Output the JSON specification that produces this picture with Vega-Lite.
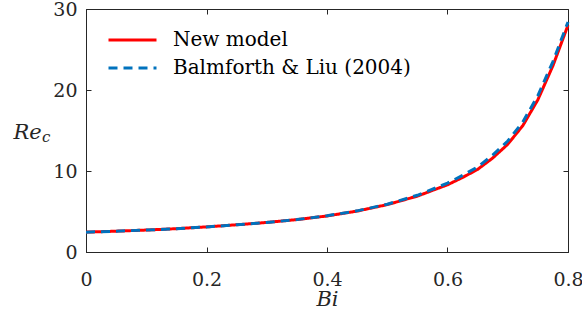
{
  "$schema": "https://vega.github.io/schema/vega-lite/v6.json",
  "autosize": "none",
  "width": 482,
  "height": 243,
  "padding": {"left": 86, "top": 9, "right": 14, "bottom": 74},
  "background": "white",
  "config": {
    "font": "DejaVu Serif",
    "view": {"stroke": "#262626", "strokeWidth": 1},
    "axis": {
      "domainColor": "#262626",
      "tickColor": "#262626",
      "labelColor": "#262626",
      "titleColor": "#262626",
      "grid": false,
      "tickSize": -5,
      "domainWidth": 1,
      "tickWidth": 1
    }
  },
  "datasets": {
    "curves": [
      {"Bi": 0, "Re": 2.45, "series": "New model"},
      {"Bi": 0.05, "Re": 2.57, "series": "New model"},
      {"Bi": 0.1, "Re": 2.71, "series": "New model"},
      {"Bi": 0.15, "Re": 2.88, "series": "New model"},
      {"Bi": 0.2, "Re": 3.1, "series": "New model"},
      {"Bi": 0.25, "Re": 3.36, "series": "New model"},
      {"Bi": 0.3, "Re": 3.65, "series": "New model"},
      {"Bi": 0.35, "Re": 4.0, "series": "New model"},
      {"Bi": 0.4, "Re": 4.45, "series": "New model"},
      {"Bi": 0.45, "Re": 5.05, "series": "New model"},
      {"Bi": 0.5, "Re": 5.85, "series": "New model"},
      {"Bi": 0.55, "Re": 6.9, "series": "New model"},
      {"Bi": 0.6, "Re": 8.3, "series": "New model"},
      {"Bi": 0.625, "Re": 9.2, "series": "New model"},
      {"Bi": 0.65, "Re": 10.2, "series": "New model"},
      {"Bi": 0.675, "Re": 11.6, "series": "New model"},
      {"Bi": 0.7, "Re": 13.3, "series": "New model"},
      {"Bi": 0.725, "Re": 15.6, "series": "New model"},
      {"Bi": 0.75, "Re": 18.8, "series": "New model"},
      {"Bi": 0.775, "Re": 23.0, "series": "New model"},
      {"Bi": 0.8, "Re": 28.0, "series": "New model"},
      {"Bi": 0, "Re": 2.45, "series": "Balmforth & Liu (2004)"},
      {"Bi": 0.05, "Re": 2.57, "series": "Balmforth & Liu (2004)"},
      {"Bi": 0.1, "Re": 2.71, "series": "Balmforth & Liu (2004)"},
      {"Bi": 0.15, "Re": 2.88, "series": "Balmforth & Liu (2004)"},
      {"Bi": 0.2, "Re": 3.1, "series": "Balmforth & Liu (2004)"},
      {"Bi": 0.25, "Re": 3.36, "series": "Balmforth & Liu (2004)"},
      {"Bi": 0.3, "Re": 3.65, "series": "Balmforth & Liu (2004)"},
      {"Bi": 0.35, "Re": 4.0, "series": "Balmforth & Liu (2004)"},
      {"Bi": 0.4, "Re": 4.47, "series": "Balmforth & Liu (2004)"},
      {"Bi": 0.45, "Re": 5.08, "series": "Balmforth & Liu (2004)"},
      {"Bi": 0.5, "Re": 5.9, "series": "Balmforth & Liu (2004)"},
      {"Bi": 0.55, "Re": 7.0, "series": "Balmforth & Liu (2004)"},
      {"Bi": 0.6, "Re": 8.5, "series": "Balmforth & Liu (2004)"},
      {"Bi": 0.625, "Re": 9.45, "series": "Balmforth & Liu (2004)"},
      {"Bi": 0.65, "Re": 10.5, "series": "Balmforth & Liu (2004)"},
      {"Bi": 0.675, "Re": 11.95, "series": "Balmforth & Liu (2004)"},
      {"Bi": 0.7, "Re": 13.7, "series": "Balmforth & Liu (2004)"},
      {"Bi": 0.725, "Re": 16.05, "series": "Balmforth & Liu (2004)"},
      {"Bi": 0.75, "Re": 19.3, "series": "Balmforth & Liu (2004)"},
      {"Bi": 0.775, "Re": 23.5, "series": "Balmforth & Liu (2004)"},
      {"Bi": 0.8, "Re": 28.4, "series": "Balmforth & Liu (2004)"}
    ],
    "sub": [{"label": "c", "Bi": 0, "Re": 13.6}]
  },
  "resolve": {"axis": {"x": "independent", "y": "independent"}},
  "layer": [
    {
      "data": {"name": "curves"},
      "transform": [{"filter": "datum.series === 'New model'"}],
      "mark": {"type": "line", "strokeWidth": 3, "clip": false},
      "encoding": {
        "x": {"field": "Bi", "type": "quantitative",
              "scale": {"domain": [0, 0.8], "nice": false, "zero": false},
              "axis": {"values": [0, 0.2, 0.4, 0.6, 0.8], "format": ".1~f", "title": "Bi",
                       "labelFont": "DejaVu Serif", "labelFontSize": 19,
                       "titleFont": "DejaVu Serif", "titleFontSize": 21, "titleFontStyle": "italic", "titleFontWeight": "normal",
                       "labelBaseline": "alphabetic", "labelPadding": 38, "titleBaseline": "alphabetic", "titleY": 53, "labelFlush": false}},
        "y": {"field": "Re", "type": "quantitative",
              "scale": {"domain": [0, 30], "nice": false},
              "axis": {"values": [0, 10, 20, 30], "title": "Re",
                       "labelFont": "DejaVu Serif", "labelFontSize": 19,
                       "titleFont": "DejaVu Serif", "titleFontSize": 21, "titleFontStyle": "italic", "titleFontWeight": "normal",
                       "titleAngle": 0, "titleAlign": "left", "titleBaseline": "alphabetic", "titleX": -73, "titleY": 129, "labelPadding": 14}},
        "color": {"field": "series", "type": "nominal",
                  "scale": {"domain": ["New model", "Balmforth & Liu (2004)"], "range": ["#FF0000", "#0072BD"]},
                  "legend": {"title": null, "orient": "none", "legendX": 21, "legendY": 19, "symbolType": "stroke", "symbolSize": 2304, "symbolStrokeWidth": 3, "labelFont": "DejaVu Serif", "labelFontSize": 20, "labelColor": "#000000", "labelOffset": 15, "rowPadding": 4, "clipHeight": 24, "padding": 0, "labelLimit": 400}},
        "strokeDash": {"field": "series", "type": "nominal",
                  "scale": {"domain": ["New model", "Balmforth & Liu (2004)"], "range": [[1, 0], [9, 6]]},
                  "legend": {"title": null, "orient": "none", "legendX": 21, "legendY": 19, "symbolType": "stroke", "symbolSize": 2304, "symbolStrokeWidth": 3, "labelFont": "DejaVu Serif", "labelFontSize": 20, "labelColor": "#000000", "labelOffset": 15, "rowPadding": 4, "clipHeight": 24, "padding": 0, "labelLimit": 400}}
      }
    },
    {
      "data": {"name": "curves"},
      "transform": [{"filter": "datum.series !== 'New model'"}],
      "mark": {"type": "line", "strokeWidth": 3, "clip": false},
      "encoding": {
        "x": {"field": "Bi", "type": "quantitative",
              "axis": {"orient": "top", "values": [0, 0.2, 0.4, 0.6, 0.8], "labels": false, "title": null, "domain": false}},
        "y": {"field": "Re", "type": "quantitative",
              "axis": {"orient": "right", "values": [0, 10, 20, 30], "labels": false, "title": null, "domain": false}},
        "color": {"field": "series", "type": "nominal"},
        "strokeDash": {"field": "series", "type": "nominal"}
      }
    },
    {
      "data": {"name": "sub"},
      "mark": {"type": "text", "font": "DejaVu Serif", "fontStyle": "italic", "fontSize": 15, "color": "#262626", "align": "left", "baseline": "alphabetic", "dx": -44, "clip": false},
      "encoding": {
        "x": {"field": "Bi", "type": "quantitative", "axis": null},
        "y": {"field": "Re", "type": "quantitative", "axis": null},
        "text": {"field": "label"}
      }
    }
  ]
}
